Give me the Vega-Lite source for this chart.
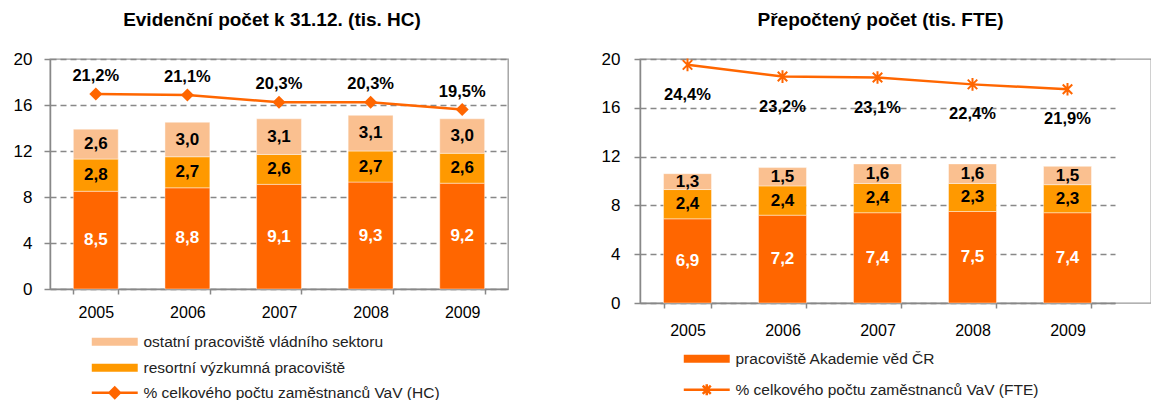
{
  "$schema": "https://vega.github.io/schema/vega-lite/v6.json",
  "background": "white",
  "padding": {"left": 12, "top": 10, "right": 0, "bottom": 0},
  "spacing": 91,
  "datasets": {
    "hc": [
      {"rok": "2005", "kategorie": "pracoviště Akademie věd ČR", "pocet": 8.5, "poradi": 1},
      {"rok": "2005", "kategorie": "resortní výzkumná pracoviště", "pocet": 2.8, "poradi": 2},
      {"rok": "2005", "kategorie": "ostatní pracoviště vládního sektoru", "pocet": 2.6, "poradi": 3},
      {"rok": "2006", "kategorie": "pracoviště Akademie věd ČR", "pocet": 8.8, "poradi": 1},
      {"rok": "2006", "kategorie": "resortní výzkumná pracoviště", "pocet": 2.7, "poradi": 2},
      {"rok": "2006", "kategorie": "ostatní pracoviště vládního sektoru", "pocet": 3.0, "poradi": 3},
      {"rok": "2007", "kategorie": "pracoviště Akademie věd ČR", "pocet": 9.1, "poradi": 1},
      {"rok": "2007", "kategorie": "resortní výzkumná pracoviště", "pocet": 2.6, "poradi": 2},
      {"rok": "2007", "kategorie": "ostatní pracoviště vládního sektoru", "pocet": 3.1, "poradi": 3},
      {"rok": "2008", "kategorie": "pracoviště Akademie věd ČR", "pocet": 9.3, "poradi": 1},
      {"rok": "2008", "kategorie": "resortní výzkumná pracoviště", "pocet": 2.7, "poradi": 2},
      {"rok": "2008", "kategorie": "ostatní pracoviště vládního sektoru", "pocet": 3.1, "poradi": 3},
      {"rok": "2009", "kategorie": "pracoviště Akademie věd ČR", "pocet": 9.2, "poradi": 1},
      {"rok": "2009", "kategorie": "resortní výzkumná pracoviště", "pocet": 2.6, "poradi": 2},
      {"rok": "2009", "kategorie": "ostatní pracoviště vládního sektoru", "pocet": 3.0, "poradi": 3}
    ],
    "fte": [
      {"rok": "2005", "kategorie": "pracoviště Akademie věd ČR", "pocet": 6.9, "poradi": 1},
      {"rok": "2005", "kategorie": "resortní výzkumná pracoviště", "pocet": 2.4, "poradi": 2},
      {"rok": "2005", "kategorie": "ostatní pracoviště vládního sektoru", "pocet": 1.3, "poradi": 3},
      {"rok": "2006", "kategorie": "pracoviště Akademie věd ČR", "pocet": 7.2, "poradi": 1},
      {"rok": "2006", "kategorie": "resortní výzkumná pracoviště", "pocet": 2.4, "poradi": 2},
      {"rok": "2006", "kategorie": "ostatní pracoviště vládního sektoru", "pocet": 1.5, "poradi": 3},
      {"rok": "2007", "kategorie": "pracoviště Akademie věd ČR", "pocet": 7.4, "poradi": 1},
      {"rok": "2007", "kategorie": "resortní výzkumná pracoviště", "pocet": 2.4, "poradi": 2},
      {"rok": "2007", "kategorie": "ostatní pracoviště vládního sektoru", "pocet": 1.6, "poradi": 3},
      {"rok": "2008", "kategorie": "pracoviště Akademie věd ČR", "pocet": 7.5, "poradi": 1},
      {"rok": "2008", "kategorie": "resortní výzkumná pracoviště", "pocet": 2.3, "poradi": 2},
      {"rok": "2008", "kategorie": "ostatní pracoviště vládního sektoru", "pocet": 1.6, "poradi": 3},
      {"rok": "2009", "kategorie": "pracoviště Akademie věd ČR", "pocet": 7.4, "poradi": 1},
      {"rok": "2009", "kategorie": "resortní výzkumná pracoviště", "pocet": 2.3, "poradi": 2},
      {"rok": "2009", "kategorie": "ostatní pracoviště vládního sektoru", "pocet": 1.5, "poradi": 3}
    ],
    "hcPct": [
      {"rok": "2005", "podil": 0.212, "serie": "% celkového počtu zaměstnanců VaV (HC)"},
      {"rok": "2006", "podil": 0.211, "serie": "% celkového počtu zaměstnanců VaV (HC)"},
      {"rok": "2007", "podil": 0.203, "serie": "% celkového počtu zaměstnanců VaV (HC)"},
      {"rok": "2008", "podil": 0.203, "serie": "% celkového počtu zaměstnanců VaV (HC)"},
      {"rok": "2009", "podil": 0.195, "serie": "% celkového počtu zaměstnanců VaV (HC)"}
    ],
    "ftePct": [
      {"rok": "2005", "podil": 0.244, "serie": "% celkového počtu zaměstnanců VaV (FTE)"},
      {"rok": "2006", "podil": 0.232, "serie": "% celkového počtu zaměstnanců VaV (FTE)"},
      {"rok": "2007", "podil": 0.231, "serie": "% celkového počtu zaměstnanců VaV (FTE)"},
      {"rok": "2008", "podil": 0.224, "serie": "% celkového počtu zaměstnanců VaV (FTE)"},
      {"rok": "2009", "podil": 0.219, "serie": "% celkového počtu zaměstnanců VaV (FTE)"}
    ]
  },
  "config": {
    "locale": {"number": {"decimal": ",", "thousands": " ", "grouping": [3], "currency": ["", " Kč"]}},
    "font": "Liberation Sans",
    "view": {"stroke": "#999999", "strokeWidth": 1.3},
    "title": {"font": "Liberation Sans", "fontSize": 19, "fontWeight": "bold", "color": "black", "offset": 20, "anchor": "middle"},
    "axis": {
      "labelFont": "Liberation Sans", "labelFontSize": 16, "labelColor": "black",
      "domainColor": "#888888", "domainWidth": 1.5,
      "tickColor": "#888888", "tickWidth": 1.5, "tickSize": 5,
      "gridColor": "#888888", "gridDash": [6, 4], "gridWidth": 1.3
    },
    "legend": {"labelFont": "Liberation Sans", "labelFontSize": 15.5, "labelColor": "#222222", "padding": 0, "labelOffset": 21, "labelLimit": 0}
  },
  "hconcat": [
    {
      "width": 458,
      "height": 230,
      "title": {"text": "Evidenční počet k 31.12. (tis. HC)", "dx": -7},
      "encoding": {
        "x": {
          "field": "rok", "type": "ordinal",
          "scale": {"paddingInner": 0.51, "paddingOuter": 0.255},
          "axis": {"title": null, "labelAngle": 0, "grid": false, "tickBand": "extent", "labelPadding": 10}
        }
      },
      "layer": [
        {
          "data": {"name": "hc"},
          "mark": {"type": "bar", "stroke": "white", "strokeWidth": 0.6, "strokeOpacity": 0.7},
          "encoding": {
            "y": {
              "field": "pocet", "type": "quantitative", "stack": "zero",
              "scale": {"domain": [0, 20]},
              "axis": {"title": null, "values": [0, 4, 8, 12, 16, 20], "grid": true, "tickSize": 6, "labelPadding": 12, "labelFontSize": 17}
            },
            "color": {
              "field": "kategorie", "type": "nominal",
              "scale": {
                "domain": ["ostatní pracoviště vládního sektoru", "resortní výzkumná pracoviště", "pracoviště Akademie věd ČR"],
                "range": ["#FAC090", "#FF9900", "#FF6600"]
              },
              "legend": {
                "values": ["ostatní pracoviště vládního sektoru", "resortní výzkumná pracoviště"],
                "title": null, "orient": "none", "legendX": 57, "legendY": 275,
                "symbolType": "M-4,-0.7H4V0.7H-4Z", "symbolSize": 132, "symbolStrokeWidth": 0,
                "rowPadding": 9
              }
            },
            "order": {"field": "poradi", "sort": "ascending"}
          }
        },
        {
          "data": {"name": "hc"},
          "mark": {"type": "text", "fontWeight": "bold", "fontSize": 17, "baseline": "middle"},
          "encoding": {
            "y": {"field": "pocet", "type": "quantitative", "stack": "zero", "bandPosition": 0.5, "scale": {"domain": [0, 20]}, "axis": null},
            "detail": {"field": "kategorie"},
            "order": {"field": "poradi", "sort": "ascending"},
            "text": {"field": "pocet", "type": "quantitative", "format": ".1f"},
            "color": {"condition": {"test": "datum.poradi === 1", "value": "white"}, "value": "black"}
          }
        },
        {
          "data": {"name": "hcPct"},
          "mark": {"type": "line", "strokeWidth": 2.5},
          "encoding": {
            "y": {"field": "podil", "type": "quantitative", "scale": {"domain": [0, 0.25]}, "axis": null},
            "stroke": {
              "field": "serie", "type": "nominal",
              "scale": {"range": ["#FF6600"]},
              "legend": {
                "title": null, "orient": "none", "legendX": 57, "legendY": 326,
                "symbolType": "M-4,0H4M-0.9,0L0,-0.9L0.9,0L0,0.9Z", "symbolSize": 132,
                "symbolStrokeWidth": 2.5, "symbolFillColor": "#FF6600"
              }
            }
          }
        },
        {
          "data": {"name": "hcPct"},
          "mark": {"type": "point", "shape": "diamond", "filled": true, "size": 169, "color": "#FF6600", "opacity": 1},
          "encoding": {
            "y": {"field": "podil", "type": "quantitative", "scale": {"domain": [0, 0.25]}, "axis": null}
          }
        },
        {
          "data": {"name": "hcPct"},
          "mark": {"type": "text", "fontWeight": "bold", "fontSize": 16.5, "baseline": "middle", "dy": -18, "color": "black"},
          "encoding": {
            "y": {"field": "podil", "type": "quantitative", "scale": {"domain": [0, 0.25]}, "axis": null},
            "text": {"field": "podil", "type": "quantitative", "format": ".1%"}
          }
        }
      ],
      "resolve": {"scale": {"y": "independent"}}
    },
    {
      "width": 511,
      "height": 244,
      "title": {"text": "Přepočtený počet (tis. FTE)", "dx": -15},
      "encoding": {
        "x": {
          "field": "rok", "type": "ordinal",
          "scale": {"paddingInner": 0.495, "paddingOuter": 0.2475, "range": [0, 475]},
          "axis": {"title": null, "labelAngle": 0, "grid": false, "tickBand": "extent", "labelPadding": 14}
        }
      },
      "layer": [
        {
          "data": {"name": "fte"},
          "mark": {"type": "bar", "stroke": "white", "strokeWidth": 0.6, "strokeOpacity": 0.7},
          "encoding": {
            "y": {
              "field": "pocet", "type": "quantitative", "stack": "zero",
              "scale": {"domain": [0, 20]},
              "axis": {"title": null, "values": [0, 4, 8, 12, 16, 20], "grid": true, "tickSize": 6, "labelPadding": 14, "labelFontSize": 17}
            },
            "color": {
              "field": "kategorie", "type": "nominal",
              "scale": {
                "domain": ["ostatní pracoviště vládního sektoru", "resortní výzkumná pracoviště", "pracoviště Akademie věd ČR"],
                "range": ["#FAC090", "#FF9900", "#FF6600"]
              },
              "legend": {
                "values": ["pracoviště Akademie věd ČR"],
                "title": null, "orient": "none", "legendX": 59, "legendY": 292,
                "symbolType": "M-4,-0.7H4V0.7H-4Z", "symbolSize": 132, "symbolStrokeWidth": 0
              }
            },
            "order": {"field": "poradi", "sort": "ascending"}
          }
        },
        {
          "data": {"name": "fte"},
          "mark": {"type": "text", "fontWeight": "bold", "fontSize": 17, "baseline": "middle"},
          "encoding": {
            "y": {"field": "pocet", "type": "quantitative", "stack": "zero", "bandPosition": 0.5, "scale": {"domain": [0, 20]}, "axis": null},
            "detail": {"field": "kategorie"},
            "order": {"field": "poradi", "sort": "ascending"},
            "text": {"field": "pocet", "type": "quantitative", "format": ".1f"},
            "color": {"condition": {"test": "datum.poradi === 1", "value": "white"}, "value": "black"}
          }
        },
        {
          "data": {"name": "ftePct"},
          "mark": {"type": "line", "strokeWidth": 2.5},
          "encoding": {
            "y": {"field": "podil", "type": "quantitative", "scale": {"domain": [0, 0.25]}, "axis": null},
            "stroke": {
              "field": "serie", "type": "nominal",
              "scale": {"range": ["#FF6600"]},
              "legend": {
                "title": null, "orient": "none", "legendX": 59, "legendY": 323,
                "symbolType": "M-4,0H4M-0.7,-0.7L0.7,0.7M-0.7,0.7L0.7,-0.7M0,-0.95V0.95", "symbolSize": 132,
                "symbolStrokeWidth": 2.5
              }
            }
          }
        },
        {
          "data": {"name": "ftePct"},
          "mark": {"type": "point", "shape": "M-0.75,-0.75L0.75,0.75M-0.75,0.75L0.75,-0.75M0,-1V1", "filled": false, "size": 160, "color": "#FF6600", "strokeWidth": 2, "opacity": 1},
          "encoding": {
            "y": {"field": "podil", "type": "quantitative", "scale": {"domain": [0, 0.25]}, "axis": null}
          }
        },
        {
          "data": {"name": "ftePct"},
          "mark": {"type": "text", "fontWeight": "bold", "fontSize": 16.5, "baseline": "middle", "dy": 30, "color": "black"},
          "encoding": {
            "y": {"field": "podil", "type": "quantitative", "scale": {"domain": [0, 0.25]}, "axis": null},
            "text": {"field": "podil", "type": "quantitative", "format": ".1%"}
          }
        }
      ],
      "resolve": {"scale": {"y": "independent"}}
    }
  ],
  "resolve": {
    "scale": {"color": "independent", "stroke": "independent"},
    "legend": {"color": "independent", "stroke": "independent"}
  }
}
